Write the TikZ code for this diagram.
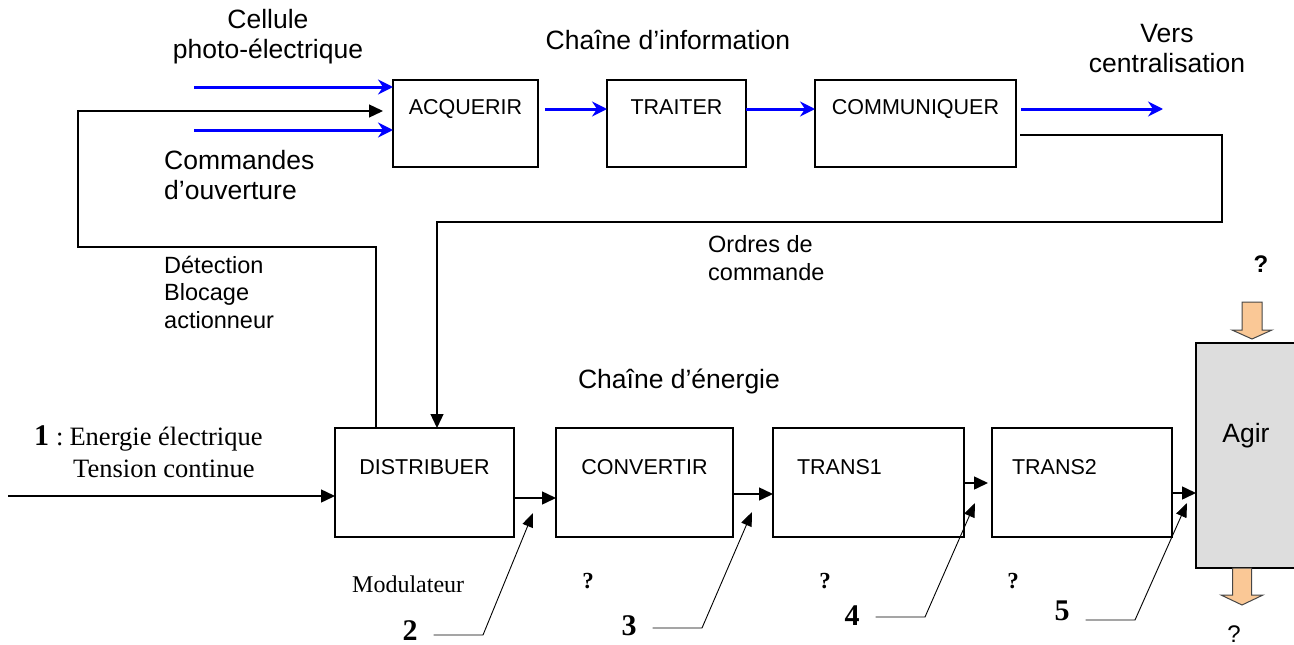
\documentclass[tikz,border=0pt]{standalone}
\usepackage{fontspec}
\setmainfont{Liberation Sans}
\newfontfamily\serifface{Liberation Serif}
\usetikzlibrary{arrows.meta}

\definecolor{peach}{RGB}{250,200,150}
\definecolor{agirgray}{RGB}{221,221,221}
\definecolor{edgegray}{RGB}{70,70,70}

\begin{document}
\begin{tikzpicture}[x=1pt, y=-1pt,
    box/.style={draw, line width=1.8pt, inner sep=0pt, outer sep=0pt, font=\fontsize{21.5}{26}\selectfont, text height=15.5pt},
    ibox/.style={box, minimum height=87pt, text depth=34pt, anchor=north west},
    ebox/.style={box, minimum height=109pt, text depth=32pt, anchor=north west},
    lbl/.style={font=\fontsize{26.5}{30}\selectfont, inner sep=0pt, anchor=base},
    smalllbl/.style={font=\fontsize{23.5}{27.5}\selectfont, inner sep=0pt, anchor=base west, align=left},
    serlbl/.style={font=\serifface\fontsize{26.5}{32}\selectfont, inner sep=0pt, anchor=base west},
    num/.style={font=\serifface\bfseries\fontsize{30}{32}\selectfont, inner sep=2pt, anchor=base},
    qmark/.style={font=\serifface\bfseries\fontsize{23}{25}\selectfont, inner sep=0pt, anchor=base},
    arr/.style={-{Triangle[length=14pt, width=13pt]}, line width=1.5pt},
    bluearr/.style={-{Stealth[length=15pt, width=15pt, inset=5pt]}, blue, line width=3pt},
    ptr/.style={-{Triangle[length=14pt, width=11pt]}, line width=0.9pt},
    blockarr/.style={fill=peach, draw=edgegray, line width=1pt}
]
\useasboundingbox (0,0) rectangle (1294,645);

% chaine d'information
\node[ibox, minimum width=145pt] (acq) at (393,80) {ACQUERIR};
\node[ibox, minimum width=139pt] (trt) at (607,80) {TRAITER};
\node[ibox, minimum width=201pt] (comm) at (815,80) {COMMUNIQUER};

% chaine d'energie
\node[ebox, minimum width=179pt] (dist) at (335,428) {DISTRIBUER};
\node[ebox, minimum width=177pt] (conv) at (556,428) {CONVERTIR};
\node[ebox, text width=143pt, inner xsep=24pt, align=left] (tra) at (773,428) {TRANS1};
\node[ebox, text width=140pt, inner xsep=20pt, align=left] (trb) at (992,428) {TRANS2};
\node[box, fill=agirgray, anchor=north west, minimum width=100pt, minimum height=225pt,
      font=\fontsize{26.5}{30}\selectfont, text height=19pt, text depth=45pt] (agir) at (1196,343) {Agir};

% textes (base = derniere ligne)
\node[lbl, align=center] (cell) at (268,58) {Cellule\\photo-électrique};
\node[lbl, anchor=base west, align=left] (cmd) at (164,199) {Commandes\\d’ouverture};
\node[lbl] (info) at (668,49) {Chaîne d’information};
\node[lbl, align=center] (vers) at (1167,72) {Vers\\centralisation};
\node[smalllbl, baseline] (ord) at (708,280) {Ordres de\\commande};
\node[smalllbl] (det) at (164,328) {Détection\\Blocage\\actionneur};
\node[lbl] (nrj) at (679,388) {Chaîne d’énergie};
\node[serlbl, align=left] (src) at (34,477) {{\bfseries\fontsize{30}{32}\selectfont 1}\hspace{7pt}:\hspace{6pt}Energie électrique\\\hspace{39pt}Tension continue};
\node[serlbl, font=\serifface\fontsize{24}{28}\selectfont] (mod) at (352,592) {Modulateur};

\node[num] (n2) at (410,640) {2};
\node[num] (n3) at (629,635) {3};
\node[num] (n4) at (852,625) {4};
\node[num] (n5) at (1062,620) {5};

\node[qmark] (q1) at (588,588) {?};
\node[qmark] (q2) at (825,588) {?};
\node[qmark] (q3) at (1013,588) {?};
\node[lbl, font=\bfseries\fontsize{24}{28}\selectfont] (qtop) at (1261,272) {?};
\node[lbl, font=\fontsize{24}{28}\selectfont] (qbot) at (1234,642) {?};

% points libres
\coordinate (cellin) at (194,87);
\coordinate (cmdin) at (194,130);
\coordinate (infolvl) at (0,109);
\coordinate (fbtop) at (376,247);
\coordinate (fbleft) at (78,247);
\coordinate (fblvl) at (0,111);
\coordinate (ordlvl) at (0,135);
\coordinate (ordR) at (1222,222);
\coordinate (ordL) at (437,222);
\coordinate (central) at (1163,109);
\coordinate (elec) at (8,496);
\coordinate (k2) at (483,635); \coordinate (t2) at (533,513);
\coordinate (k3) at (702,628); \coordinate (t3) at (752,512);
\coordinate (k4) at (925,617); \coordinate (t4) at (975,503);
\coordinate (k5) at (1135,620); \coordinate (t5) at (1187,503);
\coordinate (topin) at (1252,302);

% information
\draw[bluearr] (cellin) -- (cellin -| acq.west);
\draw[bluearr] (cmdin) -- (cmdin -| acq.west);
\draw[arr, line width=1.3pt, shorten >=10pt] (dist.north -| fbtop) |- (fbleft) |- (acq.west |- fblvl);
\draw[bluearr, shorten <=7pt] (acq.east |- infolvl) -- (trt.west |- infolvl);
\draw[bluearr] (trt.east |- infolvl) -- (comm.west |- infolvl);
\draw[bluearr, shorten <=5pt] (comm.east |- infolvl) -- (central);
\draw[arr, line width=1.3pt, shorten <=4pt] (comm.east |- ordlvl) -| (ordR) -- (ordL) -- (dist.north -| ordL);

% energie
\draw[arr] (elec) -- (dist.west |- elec);
\draw[arr] (dist.east |- 0,498) -- (conv.west |- 0,498);
\draw[arr] (conv.east |- 0,494) -- (tra.west |- 0,494);
\draw[arr, shorten >=4pt] (tra.east |- 0,483) -- (trb.west |- 0,483);
\draw[arr] (trb.east |- 0,493) -- (agir.west |- 0,493);

\draw[ptr, shorten <=14pt] (n2.east |- k2) -- (k2) -- (t2);
\draw[ptr, shorten <=14pt] (n3.east |- k3) -- (k3) -- (t3);
\draw[ptr, shorten <=14pt] (n4.east |- k4) -- (k4) -- (t4);
\draw[ptr, shorten <=14pt] (n5.east |- k5) -- (k5) -- (t5);

\filldraw[blockarr] (topin) ++(-10,0) -- ++(20,0) -- ++(0,28) -- ++(10,0) -- ++(-20,9) -- ++(-20,-9) -- ++(10,0) -- cycle;
\filldraw[blockarr] (agir.south -| 1242,0) ++(-9.5,0) -- ++(19,0) -- ++(0,27) -- ++(11.5,0) -- ++(-21,10) -- ++(-21,-10) -- ++(11.5,0) -- cycle;
\end{tikzpicture}
\end{document}
